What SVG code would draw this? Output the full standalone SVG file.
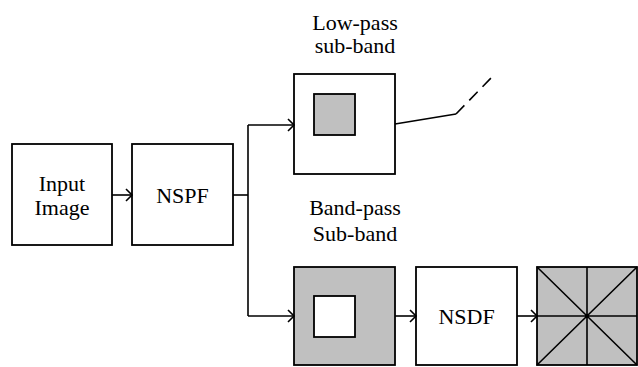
<svg xmlns="http://www.w3.org/2000/svg" width="638" height="367" viewBox="0 0 638 367">
<style>
.box{fill:#fff;stroke:#000;stroke-width:1.8}
.gray{fill:#c0c0c0;stroke:#000;stroke-width:1.8}
.ln{fill:none;stroke:#000;stroke-width:1.6}
text{font-family:"Liberation Serif","Times New Roman",serif;font-size:22px;fill:#000;text-anchor:middle}
</style>
<defs>
<marker id="arr" markerWidth="10" markerHeight="14" refX="8" refY="7" orient="auto" markerUnits="userSpaceOnUse">
<path d="M2,1 L8,7 L2,13" fill="none" stroke="#000" stroke-width="1.6"/>
</marker>
</defs>
<g id="input">
<rect class="box" x="12" y="144" width="100" height="101"/>
<text x="62" y="191">Input</text>
<text x="62" y="215">Image</text>
</g>
<g id="nspf">
<rect class="box" x="132" y="144" width="101" height="101"/>
<text x="182.5" y="203">NSPF</text>
</g>
<g id="lowpass">
<text x="355" y="30">Low-pass</text>
<text x="355" y="53">sub-band</text>
<rect class="box" x="294" y="74" width="101" height="100"/>
<rect class="gray" x="314" y="94" width="41" height="41"/>
</g>
<g id="bandpass">
<text x="355" y="215">Band-pass</text>
<text x="355" y="241">Sub-band</text>
<rect class="gray" x="294" y="267" width="101" height="98"/>
<rect class="box" x="314" y="296" width="41" height="41"/>
</g>
<g id="nsdf">
<rect class="box" x="416" y="267" width="101" height="98"/>
<text x="466.5" y="324">NSDF</text>
</g>
<g id="output">
<rect class="gray" x="537" y="267" width="100" height="98"/>
<path class="ln" d="M537,267 L637,365 M637,267 L537,365 M587,267 L587,365 M537,316 L637,316"/>
</g>
<g id="connectors">
<path class="ln" d="M112,195 L132,195" marker-end="url(#arr)"/>
<path class="ln" d="M233,195 L248,195"/>
<path class="ln" d="M248,125 L248,316"/>
<path class="ln" d="M248,125 L294,125" marker-end="url(#arr)"/>
<path class="ln" d="M248,316 L294,316" marker-end="url(#arr)"/>
<path class="ln" d="M395,316 L416,316" marker-end="url(#arr)"/>
<path class="ln" d="M517,316 L537,316" marker-end="url(#arr)"/>
<path class="ln" d="M395,124 L456,114"/>
<path class="ln" d="M456,114 L493,76" stroke-dasharray="12,7"/>
</g>
</svg>
